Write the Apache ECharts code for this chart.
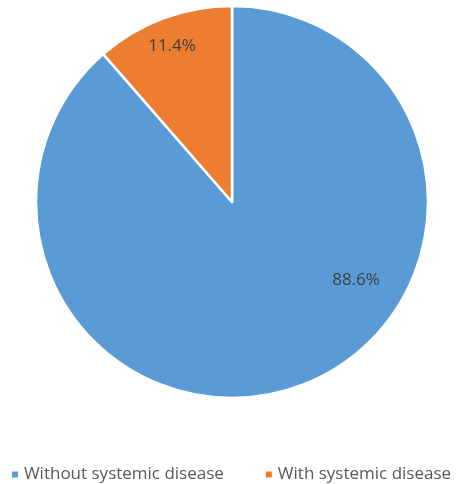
<!DOCTYPE html>
<html><head><meta charset="utf-8">
<script src="https://cdn.jsdelivr.net/npm/echarts@6/dist/echarts.min.js"></script>
<style>html,body{margin:0;padding:0;background:#fff}#c{width:461px;height:484px}</style>
</head><body><div id="c"></div>
<script>
const categories = ['Without systemic disease', 'With systemic disease'];
const values = [88.6, 11.4];
const colors = ['#5B9BD5', '#ED7D31'];
const labelSpots = [[356, 280], [172, 46]];

const chart = echarts.init(document.getElementById('c'), null, {renderer: 'canvas'});
chart.setOption({
  animation: false,
  legend: {
    top: 461, left: 'center',
    itemWidth: 8, itemHeight: 8, itemGap: 40,
    icon: 'rect',
    textStyle: {fontFamily: 'Open Sans', fontSize: 17, color: '#595959'},
    data: categories
  },
  series: [{
    type: 'pie',
    center: [232, 202],
    radius: 196,
    startAngle: 90,
    clockwise: true,
    itemStyle: {borderColor: '#fff', borderWidth: 2.5},
    label: {
      position: 'inside',
      formatter: p => p.value.toFixed(1) + '%',
      fontFamily: 'Open Sans', fontSize: 17, color: '#404040'
    },
    labelLayout: p => ({x: labelSpots[p.dataIndex][0], y: labelSpots[p.dataIndex][1], align: 'center', verticalAlign: 'middle'}),
    labelLine: {show: false},
    emphasis: {disabled: true},
    data: categories.map((n, i) => ({name: n, value: values[i], itemStyle: {color: colors[i]}}))
  }]
});
</script></body></html>
